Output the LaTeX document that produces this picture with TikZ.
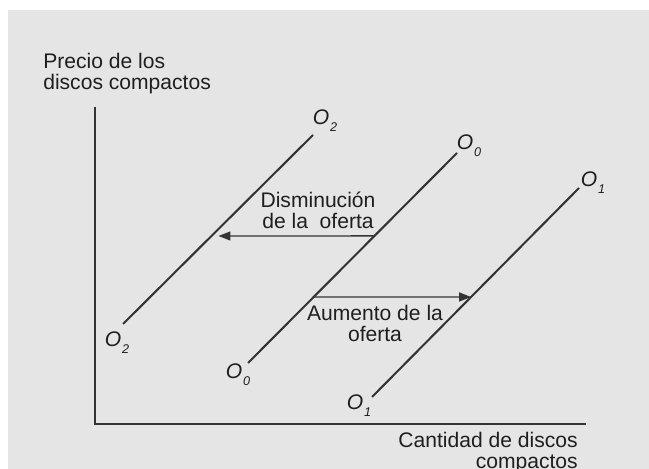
\documentclass[tikz,border=0pt]{standalone}
\usepackage{fontspec}
\setmainfont{Liberation Sans}
\usetikzlibrary{arrows.meta}
\definecolor{fondo}{gray}{0.9}
\definecolor{trazo}{gray}{0.2}
\newcommand{\oferta}[1]{\textit{O\kern0.6pt\raisebox{-4.3pt}{\fontsize{9}{9}\selectfont #1}}}
\tikzset{
  curva/.style={draw=trazo, line width=1.45pt},
  eje/.style={draw=trazo, line width=1.1pt},
  flecha/.style={draw=trazo, line width=1pt, -{Triangle[length=8.5pt,width=6.4pt]}},
  texto/.style={inner sep=0pt, text=black!88, font=\fontsize{15}{15}\selectfont},
  etiq/.style={texto, anchor=base west},
}

\begin{document}
\begin{tikzpicture}
\useasboundingbox (0,0) rectangle (16.225,11.725);
\fill[fondo] (0.2,0) rectangle (16.225,11.475);

% ejes
\coordinate (origen) at (2.375,1.125);
\coordinate (ytop) at (2.375,9.05);
\coordinate (xend) at (14.65,1.125);
\draw[eje] (ytop) -- (origen) -- (xend);
\node[texto, anchor=base west, align=left] (precio) at (1.075,9.475) {Precio de los\\discos compactos};
\node[texto, anchor=base east, align=right] (cantidad) at (14.45,0.0) {Cantidad de discos\\compactos};

% curvas de oferta
\coordinate (O2a) at (3.075,3.625);
\coordinate (O2b) at (7.825,8.35);
\coordinate (O0a) at (6.2,2.65);
\coordinate (O0b) at (11.425,7.9);
\coordinate (O1a) at (9.3,1.8);
\coordinate (O1b) at (14.475,7.025);
\draw[curva] (O2a) -- (O2b) coordinate[pos=0.4656] (m2);
\draw[curva] (O0a) -- (O0b) coordinate[pos=0.605] (m0) coordinate[pos=0.3143] (n0);
\draw[curva] (O1a) -- (O1b) coordinate[pos=0.4785] (n1);

\node[etiq] (lO2b) at (7.8125,8.6) {\oferta{2}};
\node[etiq] (lO2a) at (2.6125,3.05) {\oferta{2}};
\node[etiq] (lO0b) at (11.4125,7.975) {\oferta{0}};
\node[etiq] (lO0a) at (5.6375,2.25) {\oferta{0}};
\node[etiq] (lO1b) at (14.5125,7.05) {\oferta{1}};
\node[etiq] (lO1a) at (8.6625,1.475) {\oferta{1}};

% desplazamientos
\draw[flecha, shorten >=5pt] (m0) -- (m2);
\draw[flecha] (n0) -- (n1);
\node[texto, anchor=base, align=center] (dism) at (7.95,6.0) {Disminución\\de la~~oferta};
\node[texto, anchor=base, align=center] (aum) at (9.375,3.175) {Aumento de la\\oferta};
\end{tikzpicture}
\end{document}
